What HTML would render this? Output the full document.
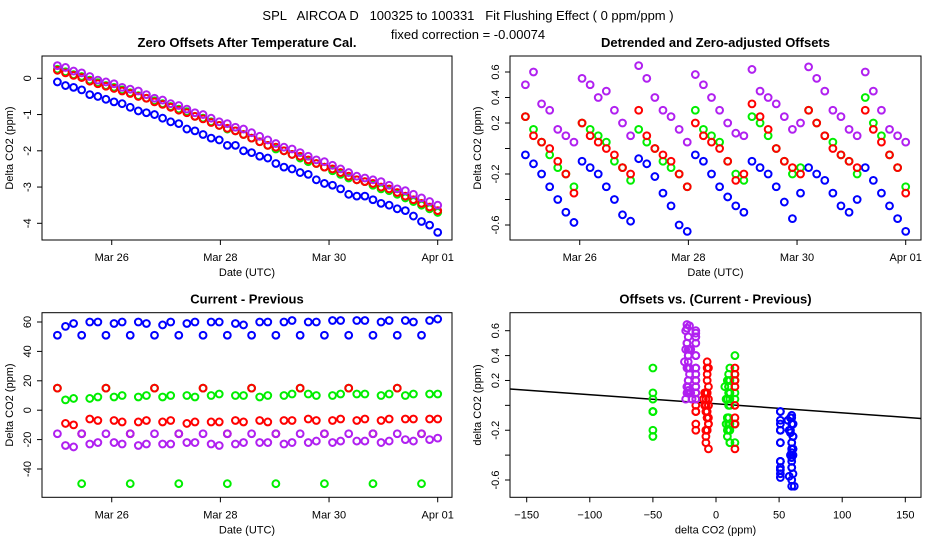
<!DOCTYPE html>
<html><head><meta charset="utf-8"><style>
html,body{margin:0;padding:0;background:#fff;}
svg{display:block;font-family:"Liberation Sans",sans-serif;}
.pre{white-space:pre;}
</style></head><body>
<svg id="c" width="936" height="540" viewBox="0 0 936 540">
<text class="pre" x="468" y="20" text-anchor="middle" font-size="13">SPL   AIRCOA D   100325 to 100331   Fit Flushing Effect ( 0 ppm/ppm )</text>
<text x="468" y="39" text-anchor="middle" font-size="13">fixed correction = -0.00074</text>
</svg>
<script>
// ---- data ----
const dayStart = 25, dayEnd = 32;
const blueP1 = [-0.10,-0.20,-0.25,-0.32,-0.45,-0.50,-0.58,-0.65,-0.70,-0.80,-0.90,-0.95,-1.00,-1.10,-1.20,-1.25,-1.40,-1.45,-1.55,-1.65,-1.70,-1.85,-1.85,-2.00,-2.05,-2.15,-2.20,-2.35,-2.45,-2.50,-2.60,-2.65,-2.80,-2.90,-2.95,-3.05,-3.20,-3.25,-3.25,-3.35,-3.45,-3.50,-3.60,-3.65,-3.80,-3.95,-4.05,-4.25];
const greenP1 = [0.25,0.18,0.10,0.05,-0.05,-0.12,-0.20,-0.25,-0.32,-0.40,-0.48,-0.55,-0.62,-0.70,-0.78,-0.85,-0.92,-1.05,-1.10,-1.20,-1.30,-1.40,-1.45,-1.55,-1.65,-1.75,-1.85,-1.95,-2.00,-2.10,-2.20,-2.30,-2.35,-2.45,-2.55,-2.65,-2.75,-2.80,-2.85,-2.95,-3.05,-3.10,-3.20,-3.30,-3.40,-3.50,-3.60,-3.70];
const redP1 = [0.22,0.15,0.08,0.02,-0.08,-0.15,-0.22,-0.28,-0.35,-0.42,-0.50,-0.55,-0.65,-0.72,-0.80,-0.88,-0.95,-1.05,-1.12,-1.22,-1.30,-1.38,-1.45,-1.55,-1.65,-1.75,-1.85,-1.90,-2.00,-2.10,-2.15,-2.25,-2.35,-2.45,-2.50,-2.60,-2.70,-2.80,-2.85,-2.90,-3.00,-3.05,-3.15,-3.25,-3.35,-3.45,-3.55,-3.65];
const purpleP1 = [0.35,0.30,0.20,0.15,0.05,-0.05,-0.10,-0.15,-0.25,-0.30,-0.35,-0.45,-0.55,-0.60,-0.70,-0.75,-0.85,-0.95,-1.00,-1.10,-1.20,-1.25,-1.35,-1.40,-1.50,-1.60,-1.70,-1.80,-1.90,-1.95,-2.05,-2.15,-2.25,-2.30,-2.40,-2.50,-2.60,-2.70,-2.75,-2.80,-2.85,-2.95,-3.05,-3.10,-3.20,-3.30,-3.40,-3.50];
const blueP2 = [-0.05,-0.12,-0.2,-0.3,-0.4,-0.5,-0.58, -0.1,-0.15,-0.2,-0.3,-0.4,-0.52,-0.57, -0.08,-0.12,-0.22,-0.35,-0.45,-0.6,-0.65, -0.05,-0.1,-0.2,-0.3,-0.38,-0.45,-0.5, -0.1,-0.15,-0.2,-0.3,-0.42,-0.55,-0.35, -0.15,-0.2,-0.25,-0.35,-0.45,-0.5,-0.4, -0.15,-0.25,-0.35,-0.45,-0.55,-0.65];
const greenP2 = [0.25,0.15,0.05,-0.05,-0.15,-0.2,-0.3, 0.2,0.15,0.1,0.05,-0.1,-0.15,-0.25, 0.15,0.05,0,-0.1,-0.15,-0.2,-0.3, 0.3,0.15,0.1,0.05,-0.1,-0.2,-0.25, 0.25,0.2,0.1,0,-0.1,-0.2,-0.15, 0.3,0.2,0.1,0.05,-0.05,-0.1,-0.2, 0.4,0.2,0.1,-0.05,-0.15,-0.3];
const redP2 = [0.25,0.1,0.05,0,-0.1,-0.2,-0.35, 0.2,0.1,0.05,0,-0.05,-0.15,-0.2, 0.3,0.1,0,-0.05,-0.1,-0.2,-0.3, 0.2,0.1,0.05,0,-0.1,-0.25,-0.2, 0.35,0.25,0.15,0,-0.1,-0.15,-0.2, 0.3,0.2,0.1,0,-0.05,-0.1,-0.15, 0.3,0.15,0.05,-0.05,-0.15,-0.35];
const purpleP2 = [0.5,0.6,0.35,0.3,0.15,0.1,0.05, 0.55,0.5,0.4,0.45,0.3,0.2,0.1, 0.65,0.55,0.4,0.3,0.25,0.15,0.05, 0.58,0.5,0.4,0.3,0.2,0.12,0.1, 0.62,0.45,0.4,0.35,0.25,0.15,0.2, 0.64,0.55,0.45,0.3,0.25,0.15,0.1, 0.6,0.45,0.3,0.15,0.1,0.05];
const blueP3 = [51,57,59,51,60,60,51,59,60,51,60,59,51,58,60,51,59,60,51,60,60,51,59,58,51,60,60,51,60,61,51,60,60,51,61,61,51,61,61,51,60,61,51,61,60,51,61,62];
const greenP3 = [15,7,8,-50,8,9, 15,9,10,-50,9,10, 15,9,10,-50,10,9, 15,10,11,-50,10,10, 15,9,10,-50,10,11, 15,11,10,-50,10,11, 15,11,11,-50,10,11, 15,10,11,-50,11,11];
const redP3 = [15,-9,-10,-16,-6,-7, 15,-7,-8,-16,-8,-7, 15,-8,-7,-16,-9,-8, 15,-8,-8,-16,-7,-8, 15,-7,-8,-16,-7,-7, 15,-6,-7,-16,-7,-6, 15,-7,-6,-16,-7,-6, 15,-6,-6,-16,-6,-6];
const purpleP3 = [-16,-24,-25,-16,-23,-22,-16,-22,-23,-16,-24,-23,-16,-23,-23,-16,-22,-22,-16,-23,-24,-16,-23,-22,-16,-22,-22,-16,-23,-22,-16,-22,-21,-16,-22,-21,-16,-21,-21,-16,-22,-21,-16,-20,-21,-16,-20,-19];
const fitIntercept = 0.013, fitSlope = -0.00074;
const dateTicks = [26,28,30,32], dateLabels = ["Mar 26","Mar 28","Mar 30","Apr 01"];
const p1Ticks = [0,-1,-2,-3,-4];
const p2Ticks = [-0.6,-0.4,-0.2,0,0.2,0.4,0.6], p2Labels = ["-0.6","","-0.2","","0.2","0.4","0.6"];
const p3Ticks = [-40,-20,0,20,40,60];
const p4XTicks = [-150,-100,-50,0,50,100,150];

const svg = document.getElementById('c');
const NS = 'http://www.w3.org/2000/svg';
function mk(tag, attrs, parent){const e=document.createElementNS(NS,tag);for(const k in attrs)e.setAttribute(k,attrs[k]);(parent||svg).appendChild(e);return e;}
function lin(d0,d1,r0,r1){return v=>r0+(v-d0)*(r1-r0)/(d1-d0);}
const N = blueP1.length;
function tAt(i){return dayStart + i*(dayEnd-dayStart)/(N-1);}

const P = {
 p1:{l:42,r:452,t:56,b:240,x:lin(25,32,57.4,437.7),y:lin(0,-4,78.3,223.3),title:"Zero Offsets After Temperature Cal.",xl:"Date (UTC)",yl:"Delta CO2 (ppm)"},
 p2:{l:510,r:921,t:56,b:240,x:lin(25,32,525.4,905.7),y:lin(0.6,-0.6,72,225),title:"Detrended and Zero-adjusted Offsets",xl:"Date (UTC)",yl:"Delta CO2 (ppm)"},
 p3:{l:42,r:452,t:312.7,b:497.3,x:lin(25,32,57.4,437.7),y:lin(60,-40,322,469),title:"Current - Previous",xl:"Date (UTC)",yl:"Delta CO2 (ppm)"},
 p4:{l:510,r:921,t:312.7,b:497.3,x:lin(-150,150,526.7,905.3),y:lin(0.6,-0.6,330.7,480),title:"Offsets vs. (Current - Previous)",xl:"delta CO2 (ppm)",yl:"delta CO2 (ppm)"}
};
function frame(key,p,xt,xlab,yt,ylab){
 const g=mk('g',{});
 
 
 const box=mk('rect',{x:p.l,y:p.t,width:p.r-p.l,height:p.b-p.t,fill:'none',stroke:'#000','stroke-width':1},g);
 
 
 const tt=mk('text',{x:(p.l+p.r)/2,y:p.t-9,'text-anchor':'middle','font-size':13,'font-weight':'bold'},g);tt.textContent=p.title;
 
 
 xt.forEach((v,i)=>{const X=p.x(v);mk('line',{x1:X,x2:X,y1:p.b,y2:p.b+5,stroke:'#000'},g);
  const t=mk('text',{x:X,y:p.b+21,'text-anchor':'middle','font-size':11},g);t.textContent=xlab[i];
  
  });
 yt.forEach((v,i)=>{const Y=p.y(v);mk('line',{x1:p.l-5,x2:p.l,y1:Y,y2:Y,stroke:'#000'},g);
  if(ylab[i]!==''){const t=mk('text',{x:p.l-11,y:Y,'text-anchor':'middle','font-size':11,transform:`rotate(-90 ${p.l-11} ${Y})`},g);t.textContent=ylab[i];
  
  }});
 const xl=mk('text',{x:(p.l+p.r)/2,y:p.b+36,'text-anchor':'middle','font-size':11},g);xl.textContent=p.xl;
 
 
 const yx=p.l-29,yy=(p.t+p.b)/2;
 const yl=mk('text',{x:yx,y:yy,'text-anchor':'middle','font-size':11,transform:`rotate(-90 ${yx} ${yy})`},g);yl.textContent=p.yl;
 
 
}
frame('p1',P.p1,dateTicks,dateLabels,p1Ticks,p1Ticks.map(String));
frame('p2',P.p2,dateTicks,dateLabels,p2Ticks,p2Labels);
frame('p3',P.p3,dateTicks,dateLabels,p3Ticks,p3Ticks.map(String));
frame('p4',P.p4,p4XTicks,p4XTicks.map(v=>String(v).replace('-','\u2212')),p2Ticks,p2Labels);

const series=[
 {name:'blue',col:'#0000ff',a:blueP1,b:blueP2,c:blueP3},
 {name:'green',col:'#00ee00',a:greenP1,b:greenP2,c:greenP3},
 {name:'red',col:'#ff0000',a:redP1,b:redP2,c:redP3},
 {name:'purple',col:'#b020f0',a:purpleP1,b:purpleP2,c:purpleP3}
];
function pt(g,X,Y,col){const c=mk('circle',{cx:X,cy:Y,r:3.4,fill:'none',stroke:col,'stroke-width':2},g);
 
 }
// fit line
{const p=P.p4;const x0=-160,x1=160;
 const ln=mk('line',{x1:p.l,y1:p.y(fitIntercept+fitSlope*x0),x2:p.r,y2:p.y(fitIntercept+fitSlope*x1),stroke:'#000','stroke-width':1.5});
 
 }
series.forEach(s=>{
 const g=mk('g',{});
 
 
 for(let i=0;i<s.a.length;i++){pt(g,P.p1.x(tAt(i)),P.p1.y(s.a[i]),s.col);}
 for(let i=0;i<s.b.length;i++){pt(g,P.p2.x(tAt(i)),P.p2.y(s.b[i]),s.col);}
 for(let i=0;i<s.c.length;i++){pt(g,P.p3.x(tAt(i)),P.p3.y(s.c[i]),s.col);}
 for(let i=0;i<Math.min(s.b.length,s.c.length);i++){pt(g,P.p4.x(s.c[i]),P.p4.y(s.b[i]),s.col);}
});
</script>
</body></html>
